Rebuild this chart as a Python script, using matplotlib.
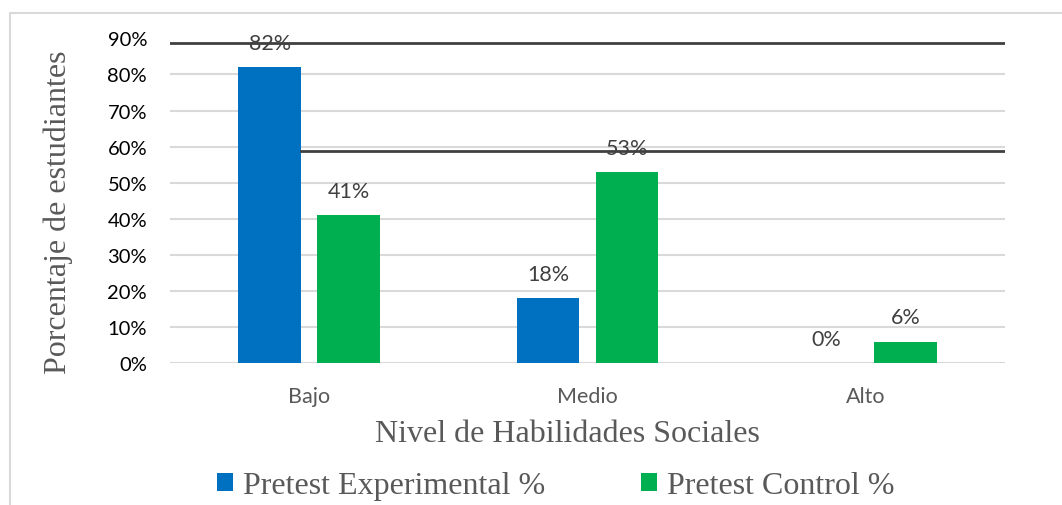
import matplotlib
matplotlib.use("Agg")
import matplotlib.pyplot as plt
from matplotlib.patches import Rectangle
import numpy as np

categories = ["Bajo", "Medio", "Alto"]
experimental = [0.82, 0.18, 0.00]
control = [0.41, 0.53, 0.06]
series_names = ["Pretest Experimental %", "Pretest Control %"]
yticks = [0.0, 0.1, 0.2, 0.3, 0.4, 0.5, 0.6, 0.7, 0.8, 0.9]

BLUE = "#0070C0"
GREEN = "#00B050"
GRID = "#d9d9d9"
DARK = "#404040"
GRAY = "#595959"
SANS = ["Lato", "DejaVu Sans"]
SERIF = ["Liberation Serif", "DejaVu Serif"]

fig = plt.figure(figsize=(10.62, 5.06), dpi=100)
W, H = 1062, 506
ax = fig.add_axes([170 / W, 1 - 364.3 / H, (1005 - 170) / W, (364.3 - 39.3) / H])

# chart border
fig.patches.append(Rectangle((9.5 / W, -0.1), 1.2, 1 - 14 / H + 0.1, transform=fig.transFigure,
                             fill=False, edgecolor=GRID, linewidth=1.5, zorder=0))

x = np.arange(len(categories))
bw = 0.226
off = 0.142
b1 = ax.bar(x - off, experimental, bw, color=BLUE, zorder=3, label=series_names[0])
b2 = ax.bar(x + off, control, bw, color=GREEN, zorder=3, label=series_names[1])

for bars, vals in ((b1, experimental), (b2, control)):
    for r, v in zip(bars, vals):
        ax.annotate(f"{v * 100:.0f}%", (r.get_x() + r.get_width() / 2, v),
                    xytext=(0, 17.5), textcoords="offset points", ha="center", va="center",
                    fontsize=15.5, color=DARK, family=SANS, zorder=5)

ax.set_xlim(-0.5, 2.5)
ax.set_ylim(0, 0.9)
ax.set_yticks(yticks)
ax.set_yticklabels([f"{t * 100:.0f}%" for t in yticks], family=SANS, fontsize=14.5, color="black")
ax.set_xticks(x)
ax.set_xticklabels(categories, family=SANS, fontsize=15.5, color=GRAY)
ax.tick_params(axis="both", length=0)
ax.tick_params(axis="y", pad=16.5)
ax.tick_params(axis="x", pad=16)
for s in ax.spines.values():
    s.set_visible(False)

for t in yticks[:-1]:
    ax.axhline(t, color=GRID, linewidth=1.5, zorder=1)
# dark overlay lines present in the original
ax.axhline(0.888, color=DARK, linewidth=2, zorder=4)
ax.axhline(0.588, xmin=(301 - 170) / 835, xmax=1, color=DARK, linewidth=2, zorder=4)

ax.set_xlabel("Nivel de Habilidades Sociales", family=SERIF, fontsize=23, color=GRAY)
ax.xaxis.set_label_coords((567 - 170) / 835, (364.3 - 435) / 325)
ax.xaxis.label.set_va("center")
ax.set_ylabel("Porcentaje de estudiantes", family=SERIF, fontsize=23, color=GRAY)
ax.yaxis.set_label_coords((58 - 170) / 835, (364.3 - 212) / 325)
ax.yaxis.label.set_va("center")

leg = fig.legend(handles=[b1, b2], labels=series_names, loc="center", bbox_to_anchor=(556 / W, 1 - 487 / H),
                 ncol=2, frameon=False, prop={"family": SERIF, "size": 23},
                 handlelength=0.5, handleheight=0.5, handletextpad=0.31, columnspacing=3.0)
for t in leg.get_texts():
    t.set_color(GRAY)

fig.savefig("out.png", dpi=100)
